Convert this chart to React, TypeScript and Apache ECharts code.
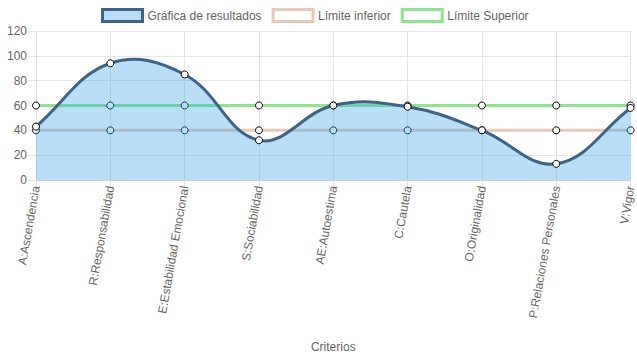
import React, { useEffect, useRef } from "react";
import * as echarts from "echarts";

const categories = [
  "A:Ascendencia",
  "R:Responsabilidad",
  "E:Estabilidad Emocional",
  "S:Sociabilidad",
  "AE:Autoestima",
  "C:Cautela",
  "O:Originalidad",
  "P:Relaciones Personales",
  "V:Vigor",
];
const resultados = [43, 94, 85, 32, 60, 59, 40, 13, 58];
const limiteInferior = [40, 40, 40, 40, 40, 40, 40, 40, 40];
const limiteSuperior = [60, 60, 60, 60, 60, 60, 60, 60, 60];
const seriesNames = ["Gráfica de resultados", "Límite inferior", "Límite Superior"];

const FONT = "'Liberation Sans', Arial, Helvetica, sans-serif";
const TENSION = 0.4;

function renderSpline(params: any, api: any) {
  if (params.dataIndex !== 0) return null;
  const pts = resultados.map((v, i) => api.coord([i, v]) as number[]);
  const n = pts.length;
  const cps: { px: number; py: number; nx: number; ny: number }[] = [];
  for (let i = 0; i < n; i++) {
    const prev = pts[Math.max(0, i - 1)];
    const cur = pts[i];
    const next = pts[Math.min(n - 1, i + 1)];
    const d01 = Math.hypot(cur[0] - prev[0], cur[1] - prev[1]);
    const d12 = Math.hypot(next[0] - cur[0], next[1] - cur[1]);
    let s01 = d01 / (d01 + d12);
    let s12 = d12 / (d01 + d12);
    if (!isFinite(s01)) s01 = 0;
    if (!isFinite(s12)) s12 = 0;
    const fa = TENSION * s01;
    const fb = TENSION * s12;
    cps.push({
      px: cur[0] - fa * (next[0] - prev[0]),
      py: cur[1] - fa * (next[1] - prev[1]),
      nx: cur[0] + fb * (next[0] - prev[0]),
      ny: cur[1] + fb * (next[1] - prev[1]),
    });
  }
  let line = `M${pts[0][0]},${pts[0][1]}`;
  for (let i = 1; i < n; i++) {
    line += ` C${cps[i - 1].nx},${cps[i - 1].ny} ${cps[i].px},${cps[i].py} ${pts[i][0]},${pts[i][1]}`;
  }
  const baseY = api.coord([0, 0])[1];
  const area = `${line} L${pts[n - 1][0]},${baseY} L${pts[0][0]},${baseY} Z`;
  return {
    type: "group",
    children: [
      {
        type: "path",
        shape: { pathData: area },
        style: { fill: "rgba(54,162,235,0.35)", stroke: "none" },
      },
      {
        type: "path",
        shape: { pathData: line },
        style: { fill: "none", stroke: "#3e6385", lineWidth: 3 },
      },
    ],
  };
}

export default function App() {
  const ref = useRef<HTMLDivElement>(null);
  useEffect(() => {
    if (!ref.current) return;
    const chart = echarts.init(ref.current, undefined, { renderer: "svg" });
    const symbolStyle = { color: "#ffffff", borderColor: "#000000", borderWidth: 1 };
    chart.setOption({
      animation: false,
      textStyle: { fontFamily: FONT },
      legend: {
        top: 8,
        left: 101,
        padding: 0,
        itemWidth: 40,
        itemHeight: 12,
        itemGap: 10,
        icon: "rect",
        textStyle: { color: "#666", fontSize: 12, fontFamily: FONT },
        data: [
          {
            name: seriesNames[0],
            itemStyle: { color: "#b9dcf8", borderColor: "#3e6385", borderWidth: 3 },
          },
          {
            name: seriesNames[1],
            itemStyle: { color: "#ffffff", borderColor: "#e6c9bb", borderWidth: 3 },
          },
          {
            name: seriesNames[2],
            itemStyle: { color: "#ffffff", borderColor: "#90e38f", borderWidth: 3 },
          },
        ],
      },
      grid: { left: 36, right: 4, top: 31, bottom: 179, containLabel: false },
      xAxis: {
        type: "category",
        data: categories,
        boundaryGap: false,
        name: "Criterios",
        nameLocation: "middle",
        nameGap: 161,
        nameTextStyle: { color: "#666", fontSize: 12, fontFamily: FONT },
        axisLine: { lineStyle: { color: "#d0d0d0", width: 1 } },
        axisTick: { show: true, length: 8, lineStyle: { color: "#e0e0e0" } },
        splitLine: { show: true, lineStyle: { color: "#e6e6e6" } },
        axisLabel: {
          rotate: 80,
          color: "#666",
          fontSize: 12,
          fontFamily: FONT,
          margin: 6,
          interval: 0,
        },
      },
      yAxis: {
        type: "value",
        min: 0,
        max: 120,
        interval: 20,
        axisLine: { show: true, lineStyle: { color: "#e0e0e0" } },
        axisTick: { show: true, length: 8, lineStyle: { color: "#e6e6e6" } },
        splitLine: { show: true, lineStyle: { color: "#e6e6e6" } },
        axisLabel: { color: "#666", fontSize: 12, fontFamily: FONT, margin: 9 },
      },
      series: [
        {
          name: seriesNames[1],
          type: "line",
          data: limiteInferior,
          z: 2,
          symbol: "circle",
          symbolSize: 7,
          showSymbol: true,
          itemStyle: symbolStyle,
          lineStyle: { color: "#e6c9bb", width: 3 },
        },
        {
          name: seriesNames[2],
          type: "line",
          data: limiteSuperior,
          z: 2,
          symbol: "circle",
          symbolSize: 7,
          showSymbol: true,
          itemStyle: symbolStyle,
          lineStyle: { color: "#90e38f", width: 3 },
        },
        {
          name: seriesNames[0],
          type: "custom",
          data: resultados.map((v, i) => [i, v]),
          encode: { x: 0, y: 1 },
          z: 3,
          renderItem: renderSpline,
          itemStyle: { color: "#b9dcf8" },
        },
        {
          name: seriesNames[0],
          type: "line",
          data: resultados,
          z: 4,
          symbol: "circle",
          symbolSize: 7,
          showSymbol: true,
          itemStyle: symbolStyle,
          lineStyle: { opacity: 0, width: 0 },
        },
      ],
    });
    return () => chart.dispose();
  }, []);
  return (
    <div
      ref={ref}
      style={{ position: "absolute", left: 0, top: 0, width: 637, height: 359 }}
    />
  );
}
